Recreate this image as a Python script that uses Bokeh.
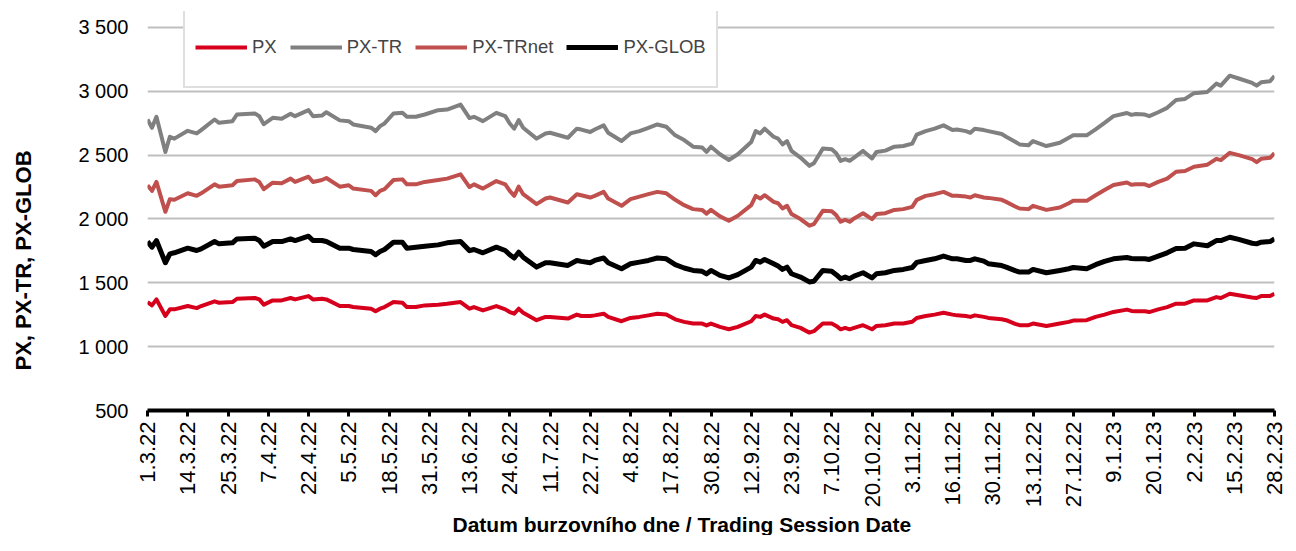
import math
from bokeh.plotting import figure
from bokeh.models import Range1d, FixedTicker, Legend, LegendItem, Title
from bokeh.embed import file_html
from bokeh.resources import INLINE

# Tick labels: every 9th trading day
tick_labels = ["1.3.22", "14.3.22", "25.3.22", "7.4.22", "22.4.22", "5.5.22", "18.5.22",
               "31.5.22", "13.6.22", "24.6.22", "11.7.22", "22.7.22", "4.8.22", "17.8.22",
               "30.8.22", "12.9.22", "23.9.22", "7.10.22", "20.10.22", "3.11.22", "16.11.22",
               "30.11.22", "13.12.22", "27.12.22", "9.1.23", "20.1.23", "2.2.23", "15.2.23",
               "28.2.23"]
tick_step = 9

# Trading-day index of each read value (0 = 1.3.22)
day = [0, 1, 2, 4, 5, 6, 9, 11, 12, 15,
       16, 19, 20, 24, 25, 26, 28, 30, 32, 33,
       36, 37, 39, 40, 43, 45, 46, 50, 51, 52,
       53, 55, 57, 58, 60, 62, 65, 67, 70, 72,
       73, 75, 78, 80, 81, 82, 83, 84, 87, 89,
       90, 94, 96, 97, 99, 100, 102, 103, 106, 108,
       110, 112, 114, 116, 118, 120, 122, 124, 125, 126,
       128, 130, 132, 135, 136, 137, 138, 140, 141, 142,
       143, 144, 146, 148, 149, 151, 153, 154, 155, 156,
       157, 158, 160, 162, 163, 165, 167, 169, 171, 172,
       174, 176, 178, 180, 181, 183, 184, 185, 187, 188,
       191, 192, 194, 195, 197, 198, 201, 204, 206, 207,
       210, 212, 214, 216, 219, 220, 221, 223, 224, 226,
       228, 230, 232, 234, 237, 239, 240, 242, 244, 247,
       248, 249, 251, 252]

px_tr = [2779, 2714, 2800, 2525, 2644, 2629, 2690, 2670, 2696, 2779,
         2753, 2766, 2818, 2826, 2805, 2742, 2792, 2784, 2823, 2805,
         2852, 2805, 2810, 2836, 2772, 2766, 2740, 2715, 2688, 2727,
         2748, 2826, 2831, 2800, 2800, 2818, 2852, 2857, 2896, 2790,
         2800, 2766, 2831, 2805, 2748, 2707, 2774, 2714, 2629, 2670,
         2675, 2636, 2707, 2700, 2681, 2701, 2733, 2675, 2610, 2670,
         2688, 2714, 2740, 2722, 2655, 2618, 2566, 2560, 2525, 2566,
         2507, 2462, 2507, 2603, 2688, 2670, 2707, 2644, 2629, 2584,
         2610, 2533, 2481, 2416, 2436, 2551, 2545, 2514, 2455, 2468,
         2455, 2481, 2533, 2473, 2525, 2535, 2566, 2571, 2590, 2660,
         2688, 2707, 2733, 2696, 2701, 2688, 2675, 2707, 2696, 2688,
         2665, 2644, 2605, 2584, 2577, 2610, 2571, 2597, 2636, 2655,
         2655, 2701, 2753, 2805, 2830, 2815, 2822, 2818, 2805, 2836,
         2870, 2932, 2940, 2985, 2995, 3060, 3044, 3122, 3100, 3065,
         3044, 3070, 3078, 3120]

px_trnet = [2264, 2220, 2290, 2056, 2155, 2150, 2201, 2181, 2201, 2271,
            2253, 2264, 2297, 2310, 2290, 2233, 2284, 2279, 2316, 2290,
            2331, 2290, 2305, 2321, 2253, 2264, 2238, 2220, 2186, 2220,
            2233, 2305, 2310, 2271, 2271, 2290, 2305, 2316, 2349, 2250,
            2271, 2238, 2297, 2271, 2220, 2181, 2253, 2194, 2116, 2160,
            2168, 2129, 2194, 2186, 2168, 2181, 2212, 2160, 2103, 2155,
            2175, 2194, 2212, 2201, 2150, 2108, 2077, 2071, 2042, 2071,
            2020, 1986, 2025, 2108, 2181, 2160, 2186, 2134, 2123, 2082,
            2103, 2038, 1999, 1947, 1960, 2064, 2060, 2030, 1978, 1994,
            1978, 2004, 2045, 1999, 2038, 2045, 2071, 2077, 2095, 2150,
            2181, 2194, 2212, 2181, 2181, 2175, 2168, 2186, 2168, 2165,
            2150, 2134, 2098, 2082, 2077, 2103, 2071, 2090, 2123, 2142,
            2142, 2186, 2227, 2266, 2285, 2268, 2271, 2271, 2258, 2290,
            2316, 2370, 2375, 2409, 2425, 2471, 2461, 2518, 2500, 2468,
            2445, 2471, 2479, 2515]

px_glob = [1823, 1779, 1831, 1657, 1727, 1735, 1771, 1753, 1766, 1823,
           1805, 1813, 1844, 1849, 1831, 1787, 1823, 1823, 1844, 1831,
           1865, 1831, 1831, 1823, 1771, 1771, 1761, 1745, 1720, 1745,
           1761, 1818, 1818, 1771, 1779, 1787, 1797, 1813, 1823, 1752,
           1761, 1735, 1779, 1753, 1720, 1694, 1740, 1701, 1623, 1657,
           1657, 1636, 1675, 1668, 1657, 1675, 1694, 1657, 1610, 1649,
           1662, 1675, 1694, 1688, 1642, 1616, 1597, 1590, 1570, 1597,
           1558, 1538, 1564, 1623, 1675, 1662, 1683, 1649, 1631, 1605,
           1623, 1571, 1545, 1507, 1512, 1597, 1590, 1564, 1532, 1545,
           1532, 1553, 1579, 1538, 1571, 1579, 1597, 1605, 1620, 1660,
           1675, 1688, 1709, 1688, 1688, 1675, 1675, 1688, 1670, 1650,
           1635, 1623, 1595, 1584, 1584, 1605, 1579, 1597, 1610, 1620,
           1610, 1642, 1668, 1688, 1698, 1690, 1688, 1688, 1683, 1709,
           1735, 1768, 1771, 1805, 1790, 1831, 1831, 1857, 1840, 1810,
           1805, 1818, 1823, 1844]

px = [1349, 1323, 1370, 1240, 1292, 1292, 1318, 1302, 1318, 1355,
      1344, 1349, 1375, 1381, 1370, 1329, 1362, 1362, 1381, 1370,
      1396, 1370, 1375, 1370, 1318, 1318, 1310, 1297, 1277, 1297,
      1310, 1349, 1344, 1310, 1310, 1323, 1329, 1336, 1349, 1297,
      1310, 1284, 1318, 1292, 1271, 1258, 1297, 1266, 1207, 1233,
      1233, 1220, 1251, 1240, 1240, 1245, 1258, 1233, 1199, 1225,
      1233, 1245, 1258, 1251, 1214, 1194, 1181, 1181, 1166, 1181,
      1155, 1136, 1155, 1199, 1240, 1233, 1251, 1220, 1214, 1194,
      1207, 1168, 1147, 1110, 1121, 1181, 1181, 1162, 1136, 1147,
      1136, 1147, 1168, 1136, 1162, 1168, 1181, 1181, 1195, 1225,
      1240, 1251, 1266, 1251, 1245, 1240, 1233, 1245, 1233, 1225,
      1215, 1207, 1178, 1168, 1168, 1181, 1162, 1181, 1194, 1204,
      1207, 1233, 1251, 1272, 1290, 1280, 1277, 1277, 1271, 1292,
      1310, 1336, 1336, 1362, 1362, 1388, 1381, 1414, 1403, 1385,
      1381, 1396, 1396, 1414]

y_ticks = [500, 1000, 1500, 2000, 2500, 3000, 3500]
y_tick_labels = ["500", "1 000", "1 500", "2 000", "2 500", "3 000", "3 500"]

FONT = "Liberation Sans"
W, H = 1288, 535
FRAME_L, FRAME_R, FRAME_T, FRAME_B = 147, 1274, 11, 412
GRID_TOP_PX = 27          # pixel row of the 3 500 gridline
last_day = (len(tick_labels) - 1) * tick_step
y_lo, y_hi = y_ticks[0], y_ticks[-1]
y_end = y_hi + (GRID_TOP_PX - FRAME_T) * (y_hi - y_lo) / (FRAME_B - GRID_TOP_PX)

p = figure(width=W, height=H, output_backend="svg", toolbar_location=None,
           x_range=Range1d(0, last_day), y_range=Range1d(y_lo, y_end),
           min_border_left=FRAME_L, min_border_right=W - FRAME_R,
           min_border_top=FRAME_T, min_border_bottom=H - FRAME_B)
p.outline_line_color = None
p.background_fill_color = "white"
p.border_fill_color = "white"

# grid
p.xgrid.grid_line_color = None
p.ygrid.ticker = FixedTicker(ticks=y_ticks)
p.ygrid.grid_line_color = "#BFBFBF"
p.ygrid.grid_line_width = 2

# y axis (invisible axis label only reserves space so the title sits further left)
yax = p.yaxis[0]
yax.ticker = FixedTicker(ticks=y_ticks)
yax.major_label_overrides = dict(zip(y_ticks, y_tick_labels))
yax.axis_line_color = None
yax.major_tick_out = 0
yax.major_tick_in = 0
yax.minor_tick_line_color = None
yax.major_label_standoff = 19
yax.major_label_text_font = FONT
yax.major_label_text_font_size = "20px"
yax.major_label_text_color = "black"
yax.axis_label = "."
yax.axis_label_text_font_size = "10px"
yax.axis_label_text_alpha = 0
yax.axis_label_standoff = 29

# x axis
x_ticks = [i * tick_step for i in range(len(tick_labels))]
xax = p.xaxis[0]
xax.ticker = FixedTicker(ticks=x_ticks)
xax.major_label_overrides = dict(zip(x_ticks, tick_labels))
xax.major_label_orientation = math.pi / 2
xax.axis_line_color = "black"
xax.axis_line_width = 4
xax.major_tick_line_color = "black"
xax.major_tick_line_width = 3
xax.major_tick_out = 6
xax.major_tick_in = 0
xax.minor_tick_line_color = None
xax.major_label_standoff = 5
xax.major_label_text_font = FONT
xax.major_label_text_font_size = "22px"
xax.major_label_text_color = "black"

r_px = p.line(day, px, line_color="#D7001C", line_width=4, line_join="round")
r_tr = p.line(day, px_tr, line_color="#808080", line_width=4, line_join="round")
r_trnet = p.line(day, px_trnet, line_color="#C0504D", line_width=4, line_join="round")
r_glob = p.line(day, px_glob, line_color="black", line_width=5, line_join="round")

legend = Legend(items=[LegendItem(label="PX", renderers=[r_px]),
                       LegendItem(label="PX-TR", renderers=[r_tr]),
                       LegendItem(label="PX-TRnet", renderers=[r_trnet]),
                       LegendItem(label="PX-GLOB", renderers=[r_glob])],
                orientation="horizontal", location=(183 - FRAME_L, FRAME_B - 90),
                label_text_font=FONT, label_text_font_size="18.5px",
                glyph_width=52, glyph_height=58, label_height=58,
                label_standoff=5, spacing=13, padding=10, margin=0,
                border_line_color="#BFBFBF", border_line_width=2,
                background_fill_color="white", background_fill_alpha=1.0)
p.add_layout(legend)

p.add_layout(Title(text="Datum burzovního dne / Trading Session Date",
                   align="left", offset=305, standoff=0,
                   text_font=FONT, text_font_style="bold", text_font_size="21px",
                   text_color="black"), "below")
p.add_layout(Title(text="PX, PX-TR, PX-GLOB",
                   align="left", offset=40, standoff=0,
                   text_font=FONT, text_font_style="bold", text_font_size="22px",
                   text_color="black"), "left")

open("out.html", "w").write(file_html(p, INLINE))
